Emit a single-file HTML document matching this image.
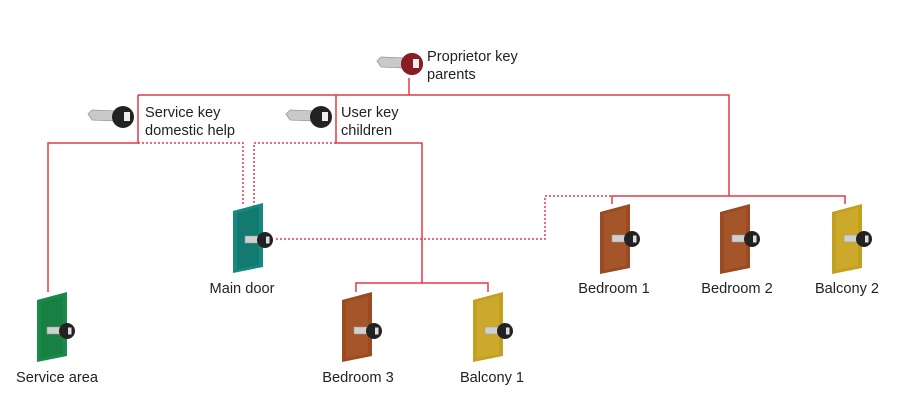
<!DOCTYPE html>
<html><head><meta charset="utf-8"><style>
html,body{margin:0;padding:0;background:#fff;}
svg{display:block;}
text{font-family:"Liberation Sans",sans-serif;font-size:14.6px;fill:#222;}
</style></head><body>
<svg width="900" height="407" viewBox="0 0 900 407" xmlns="http://www.w3.org/2000/svg">
<defs>
<g id="key">
  <path d="M0,6 L4,2 L28,3 L28,13 L4,12 Z" fill="#c9c9c9" stroke="#999" stroke-width="0.8"/>
  <circle cx="35" cy="9" r="11" fill="#222"/>
  <rect x="36" y="4" width="6" height="9" fill="#eee"/>
</g>
<g id="dkey">
  <path d="M0,1 L15,1 L15,8 L0,8 Z" fill="#d0d0d0" stroke="#999" stroke-width="0.6"/>
  <circle cx="20" cy="5" r="8" fill="#222"/>
  <rect x="21" y="1.5" width="3.5" height="7" fill="#ddd"/>
</g>
</defs>
<g fill="none" stroke="#e63946" stroke-width="1.5">
  <path d="M409,78 V95 M138,95 H729 V196 M612,204 V196 H845 V204"/>
  <path d="M138,95 V143 H48 V292"/>
  <path d="M336,95 V143 H422 V283 M356,292 V283 H488 V292"/>
</g>
<g fill="none" stroke="#e63946" stroke-width="1.5" stroke-dasharray="2,2">
  <path d="M138,143 H243 V206"/>
  <path d="M336,143 H254 V206"/>
  <path d="M276,239 H545 V196 H612"/>
</g>
<g id="doors">
  <g transform="translate(35,292)"><polygon points="2,8 32,0 32,64 2,70" fill="#1a8a4a"/><polygon points="6,10 28,4 28,62 6,66" fill="#178042"/><use href="#dkey" transform="translate(12,34)"/></g>
  <g transform="translate(231,203)"><polygon points="2,8 32,0 32,64 2,70" fill="#17877f"/><polygon points="6,10 28,4 28,62 6,66" fill="#137a72"/><use href="#dkey" transform="translate(14,32)"/></g>
  <g transform="translate(340,292)"><polygon points="2,8 32,0 32,64 2,70" fill="#9b4a22"/><polygon points="6,10 28,4 28,62 6,66" fill="#a5552a"/><use href="#dkey" transform="translate(14,34)"/></g>
  <g transform="translate(471,292)"><polygon points="2,8 32,0 32,64 2,70" fill="#c2a020"/><polygon points="6,10 28,4 28,62 6,66" fill="#cca92a"/><use href="#dkey" transform="translate(14,34)"/></g>
  <g transform="translate(598,204)"><polygon points="2,8 32,0 32,64 2,70" fill="#9b4a22"/><polygon points="6,10 28,4 28,62 6,66" fill="#a5552a"/><use href="#dkey" transform="translate(14,30)"/></g>
  <g transform="translate(718,204)"><polygon points="2,8 32,0 32,64 2,70" fill="#9b4a22"/><polygon points="6,10 28,4 28,62 6,66" fill="#a5552a"/><use href="#dkey" transform="translate(14,30)"/></g>
  <g transform="translate(830,204)"><polygon points="2,8 32,0 32,64 2,70" fill="#c2a020"/><polygon points="6,10 28,4 28,62 6,66" fill="#cca92a"/><use href="#dkey" transform="translate(14,30)"/></g>
</g>
<use href="#key" transform="translate(377,55)"/>
<circle cx="412" cy="64" r="11" fill="#8a1c24"/><rect x="413" y="59" width="6" height="9" fill="#eee"/>
<use href="#key" transform="translate(88,108)"/>
<use href="#key" transform="translate(286,108)"/>
<text x="427" y="61">Proprietor key</text>
<text x="427" y="79">parents</text>
<text x="145" y="117">Service key</text>
<text x="145" y="135">domestic help</text>
<text x="341" y="117">User key</text>
<text x="341" y="135">children</text>
<text x="242" y="293" text-anchor="middle">Main door</text>
<text x="57" y="382" text-anchor="middle">Service area</text>
<text x="358" y="382" text-anchor="middle">Bedroom 3</text>
<text x="492" y="382" text-anchor="middle">Balcony 1</text>
<text x="614" y="293" text-anchor="middle">Bedroom 1</text>
<text x="737" y="293" text-anchor="middle">Bedroom 2</text>
<text x="847" y="293" text-anchor="middle">Balcony 2</text>
</svg>
</body></html>
